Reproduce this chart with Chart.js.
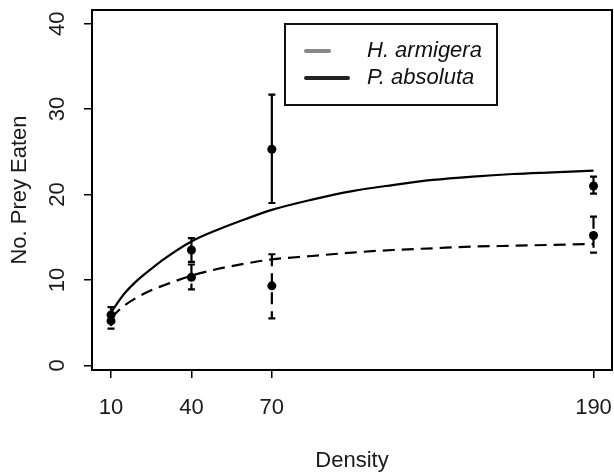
<!DOCTYPE html>
<html>
<head>
<meta charset="utf-8">
<script src="https://cdn.jsdelivr.net/npm/chart.js@4.4.1/dist/chart.umd.min.js"></script>
<style>
    html, body { margin: 0; padding: 0; background: #fff; }
    #wrap { width: 614px; height: 475px; position: relative; }
</style>
</head>
<body>
<div id="wrap"><canvas id="frChart"></canvas></div>
<script>
// Densities offered and observed means with error bar ends
const densities = [10, 40, 70, 190];
const solidMean = [5.9, 13.5, 25.3, 21.0];
const solidLow = [5.1, 12.1, 19.0, 20.1];
const solidHigh = [6.8, 14.9, 31.7, 22.1];
const dashedMean = [5.2, 10.3, 9.3, 15.2];
const dashedLow = [4.3, 8.9, 5.5, 13.2];
const dashedHigh = [6.0, 11.8, 13.0, 17.4];

// Fitted curves
const curveX = [10, 15, 20, 25, 30, 40, 50, 60, 70, 85, 100, 115, 130, 145, 160, 175, 190];
const solidCurve = [6.2, 8.4, 10.0, 11.3, 12.5, 14.5, 15.9, 17.1, 18.2, 19.4, 20.4, 21.1, 21.7, 22.1, 22.4, 22.6, 22.8];
const dashedCurve = [5.6, 7.0, 8.0, 8.8, 9.4, 10.5, 11.3, 11.9, 12.4, 12.8, 13.2, 13.5, 13.7, 13.9, 14.0, 14.1, 14.2];

const xTicks = [10, 40, 70, 190];
const yTicks = [0, 10, 20, 30, 40];
const legendLabels = ['H. armigera', 'P. absoluta'];

const FONT = '"Liberation Sans", Arial, sans-serif';
const DASH = [12, 7];

function toXY(xs, ys) {
    return xs.map((x, i) => ({ x: x, y: ys[i] }));
}

// Error bars, drawn through the chart scales
const errorBarPlugin = {
    id: 'errorBars',
    afterDatasetsDraw(chart) {
        const ctx = chart.ctx;
        const xs = chart.scales.x;
        const ys = chart.scales.y;
        const groups = [
            { lo: dashedLow, hi: dashedHigh, dash: DASH },
            { lo: solidLow, hi: solidHigh, dash: [] }
        ];
        ctx.save();
        ctx.strokeStyle = '#000';
        ctx.lineWidth = 2.2;
        groups.forEach(g => {
            densities.forEach((d, i) => {
                const px = xs.getPixelForValue(d);
                const top = ys.getPixelForValue(g.hi[i]);
                const bot = ys.getPixelForValue(g.lo[i]);
                ctx.setLineDash(g.dash);
                ctx.beginPath();
                ctx.moveTo(px, top);
                ctx.lineTo(px, bot);
                ctx.stroke();
                ctx.setLineDash([]);
                ctx.beginPath();
                ctx.moveTo(px - 3.5, top);
                ctx.lineTo(px + 3.5, top);
                ctx.moveTo(px - 3.5, bot);
                ctx.lineTo(px + 3.5, bot);
                ctx.stroke();
            });
        });
        ctx.restore();
    }
};

// Box, tick labels (R style), y title and legend
const framePlugin = {
    id: 'frame',
    afterDraw(chart) {
        const ctx = chart.ctx;
        const a = chart.chartArea;
        const xs = chart.scales.x;
        const ys = chart.scales.y;
        ctx.save();
        ctx.strokeStyle = '#000';
        ctx.lineWidth = 2;
        ctx.strokeRect(a.left, a.top, a.right - a.left, a.bottom - a.top);

        ctx.fillStyle = '#1a1a1a';
        ctx.font = '22px ' + FONT;
        ctx.textAlign = 'center';
        ctx.textBaseline = 'middle';
        xTicks.forEach(v => {
            ctx.fillText(String(v), xs.getPixelForValue(v), a.bottom + 38);
        });
        yTicks.forEach(v => {
            ctx.save();
            ctx.translate(58, ys.getPixelForValue(v));
            ctx.rotate(-Math.PI / 2);
            ctx.fillText(String(v), 0, 0);
            ctx.restore();
        });
        ctx.save();
        ctx.translate(20, (a.top + a.bottom) / 2);
        ctx.rotate(-Math.PI / 2);
        ctx.fillText('No. Prey Eaten', 0, 0);
        ctx.restore();

        // legend
        ctx.lineWidth = 2;
        ctx.strokeStyle = '#111';
        ctx.fillStyle = '#fff';
        ctx.fillRect(285, 24, 212, 81);
        ctx.strokeRect(285, 24, 212, 81);
        ctx.lineCap = 'round';
        ctx.lineWidth = 4;
        ctx.strokeStyle = '#888';
        ctx.beginPath();
        ctx.moveTo(306, 51);
        ctx.lineTo(329, 51);
        ctx.stroke();
        ctx.strokeStyle = '#222';
        ctx.beginPath();
        ctx.moveTo(306, 78);
        ctx.lineTo(348, 78);
        ctx.stroke();
        ctx.fillStyle = '#111';
        ctx.font = 'italic 22px ' + FONT;
        ctx.textAlign = 'left';
        ctx.fillText(legendLabels[0], 367, 51);
        ctx.fillText(legendLabels[1], 367, 78);
        ctx.restore();
    }
};

new Chart(document.getElementById('frChart'), {
    type: 'scatter',
    data: {
        datasets: [
            {
                type: 'line',
                data: toXY(curveX, solidCurve),
                borderColor: '#000',
                borderWidth: 2.2,
                pointRadius: 0,
                cubicInterpolationMode: 'monotone',
                fill: false
            },
            {
                type: 'line',
                data: toXY(curveX, dashedCurve),
                borderColor: '#000',
                borderWidth: 2.2,
                borderDash: DASH,
                pointRadius: 0,
                cubicInterpolationMode: 'monotone',
                fill: false
            },
            {
                data: toXY(densities, solidMean),
                backgroundColor: '#000',
                borderColor: '#000',
                pointRadius: 4.5,
                pointBorderWidth: 0
            },
            {
                data: toXY(densities, dashedMean),
                backgroundColor: '#000',
                borderColor: '#000',
                pointRadius: 4.5,
                pointBorderWidth: 0
            }
        ]
    },
    options: {
        responsive: true,
        maintainAspectRatio: false,
        devicePixelRatio: 1,
        animation: false,
        layout: { autoPadding: false, padding: { top: 10, right: 2, left: 0, bottom: 0 } },
        plugins: {
            legend: { display: false },
            tooltip: { enabled: false }
        },
        scales: {
            x: {
                type: 'linear',
                position: 'bottom',
                min: 2.9,
                max: 196.9,
                afterBuildTicks: scale => { scale.ticks = xTicks.map(v => ({ value: v })); },
                afterFit: scale => { scale.height = 105; },
                grid: { drawOnChartArea: false, drawTicks: true, tickLength: 8, color: '#000', lineWidth: 1.5 },
                border: { display: true, color: '#000', width: 2 },
                ticks: { display: false },
                title: { display: true, text: 'Density', color: '#1a1a1a', font: { size: 22, family: FONT }, padding: { bottom: 1 } }
            },
            y: {
                type: 'linear',
                min: -0.55,
                max: 41.6,
                afterBuildTicks: scale => { scale.ticks = yTicks.map(v => ({ value: v })); },
                afterFit: scale => { scale.width = 92; },
                grid: { drawOnChartArea: false, drawTicks: true, tickLength: 8, color: '#000', lineWidth: 1.5 },
                border: { display: true, color: '#000', width: 2 },
                ticks: { display: false }
            }
        }
    },
    plugins: [errorBarPlugin, framePlugin]
});
</script>
</body>
</html>
